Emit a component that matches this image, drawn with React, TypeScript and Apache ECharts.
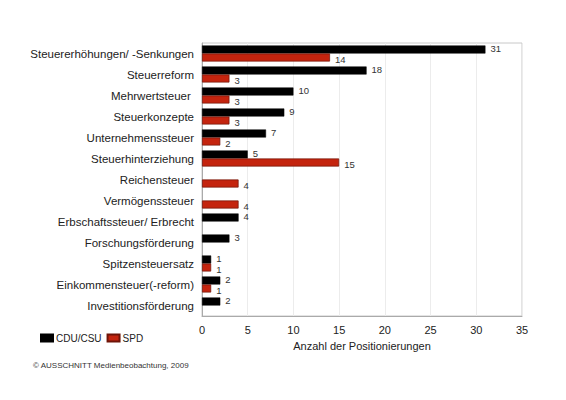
import React, { useEffect, useRef } from "react";
import * as echarts from "echarts";

const categories = [
  "Steuererhöhungen/ -Senkungen",
  "Steuerreform",
  "Mehrwertsteuer ",
  "Steuerkonzepte",
  "Unternehmenssteuer",
  "Steuerhinterziehung",
  "Reichensteuer",
  "Vermögenssteuer",
  "Erbschaftssteuer/ Erbrecht",
  "Forschungsförderung",
  "Spitzensteuersatz",
  "Einkommensteuer(-reform)",
  "Investitionsförderung",
];
const cduValues = [31, 18, 10, 9, 7, 5, null, null, 4, 3, 1, 2, 2];
const spdValues = [14, 3, 3, 3, 2, 15, 4, 4, null, null, 1, 1, null];
const xTicks = [0, 5, 10, 15, 20, 25, 30, 35];

export default function App() {
  const ref = useRef<HTMLDivElement>(null);
  useEffect(() => {
    const chart = echarts.init(ref.current!, null, { renderer: "svg" });
    const font = "Liberation Sans, Arial, sans-serif";
    chart.setOption({
      animation: false,
      textStyle: { fontFamily: font },
      grid: {
        left: 202,
        top: 43,
        width: 320,
        height: 273,
        show: true,
        borderColor: "#c8c8c8",
        borderWidth: 1,
        containLabel: false,
      },
      legend: {
        left: 35,
        top: 328,
        itemWidth: 12,
        itemHeight: 7,
        itemGap: 5,
        icon: "rect",
        textStyle: { fontSize: 10, color: "#222", fontFamily: font, padding: [0, 0, 0, -2] },
        data: ["CDU/CSU", "SPD"],
      },
      xAxis: {
        type: "value",
        min: xTicks[0],
        max: xTicks[xTicks.length - 1],
        interval: 5,
        name: "Anzahl der Positionierungen",
        nameLocation: "middle",
        nameGap: 24,
        nameTextStyle: { fontSize: 11, color: "#222", fontFamily: font },
        axisLine: { show: true, lineStyle: { color: "#aaa" } },
        axisTick: { show: false },
        axisLabel: { fontSize: 11, color: "#222", margin: 8, fontFamily: font },
        splitLine: { show: true, lineStyle: { color: "#ececec" } },
      },
      yAxis: {
        type: "category",
        inverse: true,
        data: categories,
        axisLine: { show: true, lineStyle: { color: "#aaa" } },
        axisTick: { show: false },
        axisLabel: { fontSize: 11.5, color: "#222", margin: 8, fontFamily: font },
      },
      series: [
        {
          name: "CDU/CSU",
          type: "bar",
          data: cduValues,
          barWidth: 8,
          barGap: "0%",
          itemStyle: { color: "#000000", borderColor: "#000", borderWidth: 0.5 },
          label: {
            show: true,
            position: "right",
            distance: 5,
            offset: [0, -1.5],
            fontSize: 9.5,
            lineHeight: 10,
            color: "#333",
            fontFamily: font,
          },
        },
        {
          name: "SPD",
          type: "bar",
          data: spdValues,
          barWidth: 8,
          barGap: "0%",
          itemStyle: { color: "#c4240e", borderColor: "#6e1408", borderWidth: 0.7 },
          label: {
            show: true,
            position: "right",
            distance: 5,
            offset: [0, 1.5],
            fontSize: 9.5,
            lineHeight: 10,
            color: "#333",
            fontFamily: font,
          },
        },
      ],
      graphic: [
        {
          type: "text",
          left: 33,
          top: 361,
          style: {
            text: "© AUSSCHNITT Medienbeobachtung, 2009",
            fontSize: 8,
            fill: "#333",
            fontFamily: font,
          },
        },
      ],
    });
    return () => chart.dispose();
  }, []);
  return (
    <div
      ref={ref}
      style={{ position: "absolute", left: 0, top: 0, width: 566, height: 400, background: "#fff" }}
    />
  );
}
